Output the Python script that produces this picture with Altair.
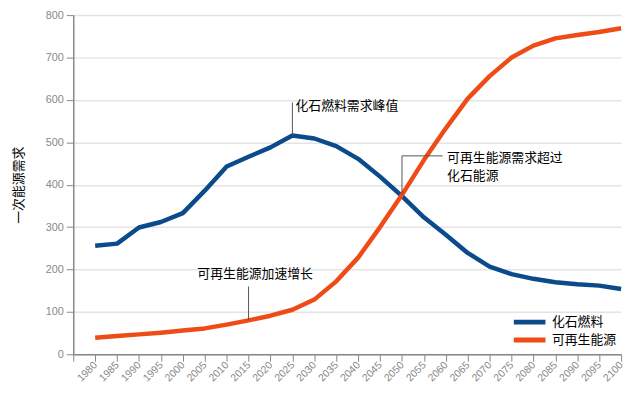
import altair as alt
import pandas as pd

years = list(range(1980, 2101, 5))
fossil = [256, 261, 299, 312, 333, 386, 443, 466, 488, 516, 509, 491, 461, 419, 373,
          323, 282, 239, 207, 189, 178, 170, 165, 162, 154]
renew = [39, 43, 47, 51, 56, 61, 70, 80, 91, 105, 129, 172, 228, 300, 376,
         458, 533, 603, 656, 700, 728, 745, 753, 760, 769]
series_names = ["化石燃料", "可再生能源"]
colors = ["#0b4a8b", "#ef4b16"]

rows = []
for y, f, r in zip(years, fossil, renew):
    rows.append({"year": y, "value": f, "series": series_names[0]})
    rows.append({"year": y, "value": r, "series": series_names[1]})
df = pd.DataFrame(rows)

# annotations
ann_text = ["化石燃料需求峰值", "可再生能源加速增长", "可再生能源需求超过\n化石能源"]
ann_tx = [2025.7, 2016.5, 2060.3]
ann_ty = [586, 189, 463]
ann_align = ["left", "center", "left"]
rule_x = [2025, 2015, 2050]
rule_y = [517, 81, 376]
rule_y2 = [594, 160, 468]
hrule_x = [2050]
hrule_x2 = [2059.3]
hrule_y = [468]

ticks = list(range(1975, 2101, 5))
xscale = alt.Scale(domain=[1975, 2100], nice=False, zero=False)
yscale = alt.Scale(domain=[0, 800], nice=False)

xaxis = alt.Axis(values=ticks, labelAngle=-45, labelAlign="right",
                 labelBaseline="middle", labelOverlap=False, labelSeparation=0,
                 labelExpr="datum.value == 1975 ? '' : toString(datum.value)",
                 grid=False, title=None, domainColor="#888", tickColor="#888",
                 tickSize=7, labelColor="#888", labelFontSize=10.5,
                 labelFont="Liberation Sans", labelPadding=2, domainWidth=1.5)
yaxis = alt.Axis(values=list(range(0, 801, 100)), title="一次能源需求",
                 titleFont="Noto Sans CJK SC", titleFontSize=13, titleFontWeight="normal",
                 titleColor="#000", titleX=-55, titleAngle=-90, titleBaseline="middle",
                 gridColor="#e4e4e4", gridWidth=1.5, domainColor="#888",
                 tickColor="#888", tickSize=7, labelColor="#888", labelFontSize=11,
                 labelFont="Liberation Sans", labelPadding=3, domainWidth=1.5)

base = alt.Chart(df)
lines = base.mark_line(strokeWidth=4.5, strokeJoin="round").encode(
    x=alt.X("year:Q", scale=xscale, axis=xaxis),
    y=alt.Y("value:Q", scale=yscale, axis=yaxis),
    color=alt.Color("series:N", scale=alt.Scale(domain=series_names, range=colors),
                    sort=series_names,
                    legend=alt.Legend(title=None, orient="none", legendX=455, legendY=304,
                                      symbolType="M-4,0H4", symbolStrokeWidth=5, symbolSize=64,
                                      labelFont="Noto Sans CJK SC", labelFontSize=13,
                                      labelColor="#000", rowPadding=-3, labelOffset=16)),
)

ann_df = pd.DataFrame({"x": ann_tx, "y": ann_ty, "t": ann_text, "a": ann_align})
rule_df = pd.DataFrame({"x": rule_x, "y": rule_y, "y2": rule_y2})
hrule_df = pd.DataFrame({"x": hrule_x, "x2": hrule_x2, "y": hrule_y})

vrules = alt.Chart(rule_df).mark_rule(color="#555", strokeWidth=1).encode(
    x=alt.X("x:Q", scale=xscale, axis=xaxis), y=alt.Y("y:Q", scale=yscale, axis=yaxis), y2="y2:Q")
hrules = alt.Chart(hrule_df).mark_rule(color="#555", strokeWidth=1).encode(
    x=alt.X("x:Q", scale=xscale, axis=xaxis), x2="x2:Q", y=alt.Y("y:Q", scale=yscale, axis=yaxis))

texts = []
for i in range(len(ann_text)):
    sub = ann_df.iloc[[i]]
    texts.append(alt.Chart(sub).mark_text(align=ann_align[i], baseline="middle",
                                           font="Noto Sans CJK SC", fontSize=13, color="#000",
                                           lineBreak="\n", lineHeight=18).encode(
        x=alt.X("x:Q", scale=xscale, axis=xaxis), y=alt.Y("y:Q", scale=yscale, axis=yaxis),
        text="t:N"))

chart = alt.layer(lines, vrules, hrules, *texts).properties(
    width=554, height=343,
    autosize=alt.AutoSizeParams(type="none"),
    padding={"left": 66, "top": 5, "right": 10, "bottom": 40},
).configure_view(stroke=None).configure_axis(labelOverlap=False)

chart.save("out.html", embed_options={"renderer": "svg", "actions": False})
